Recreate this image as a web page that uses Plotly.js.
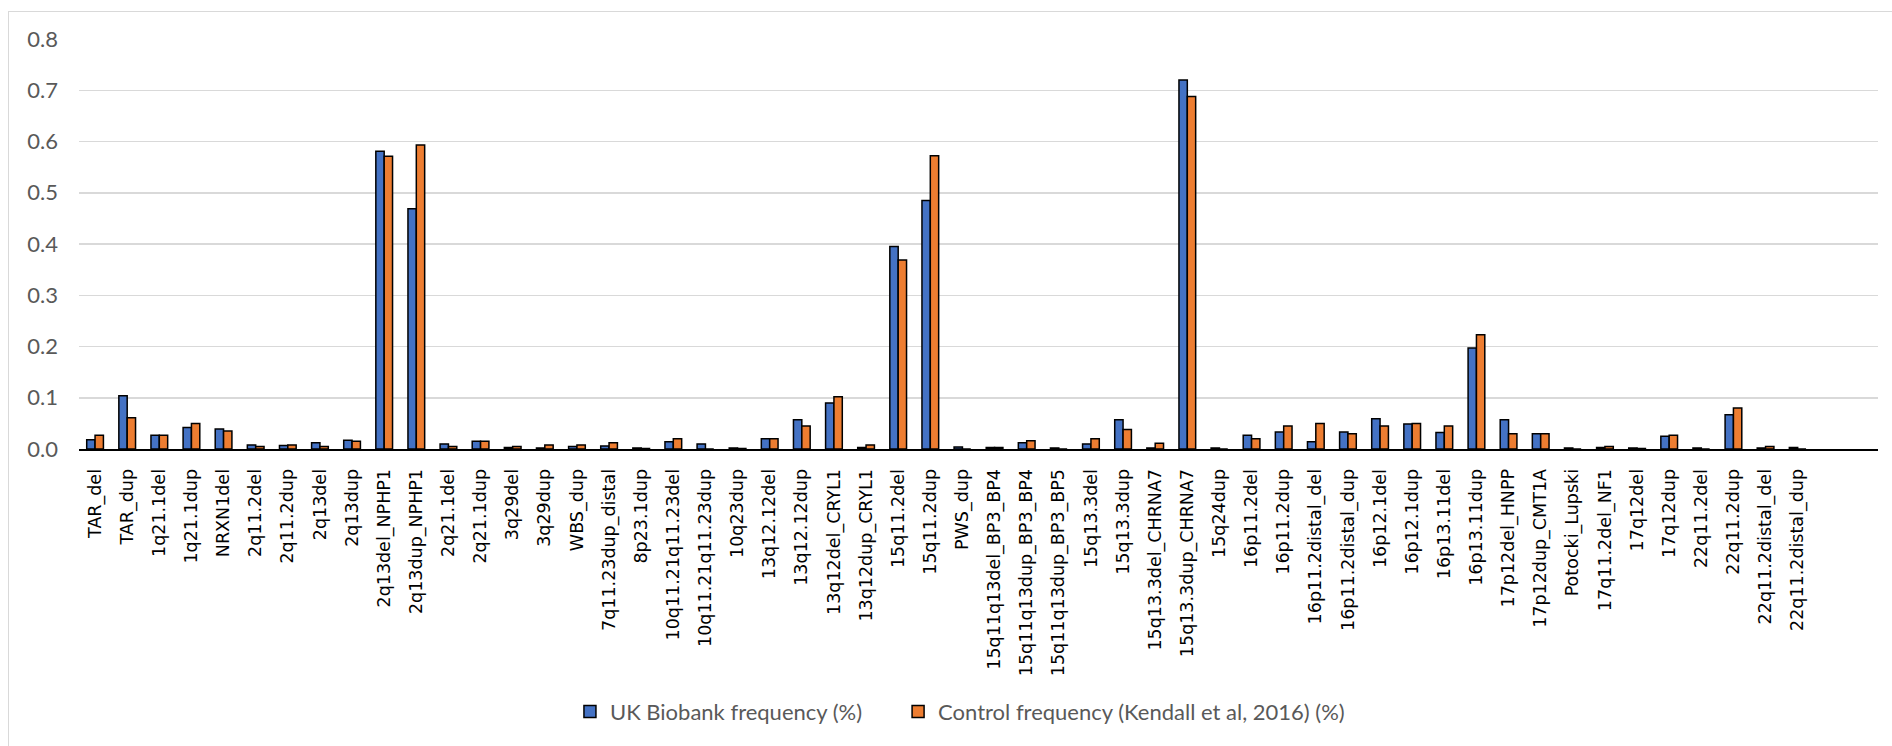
<!DOCTYPE html>
<html>
<head>
<meta charset="utf-8">
<script src="https://cdn.plot.ly/plotly-3.0.1.min.js"></script>
<style>
  html, body { margin: 0; padding: 0; background: #fff; }
  #wrap { position: relative; width: 1892px; height: 746px; overflow: hidden; }
  #chart { width: 1892px; height: 746px; }
  #frame { position: absolute; left: 8px; top: 11px; width: 1900px; height: 800px;
           border-left: 1px solid #D9D9D9; border-top: 1px solid #D9D9D9; pointer-events: none; }
</style>
</head>
<body>
<div id="wrap">
  <div id="chart"></div>
  <div id="frame"></div>
</div>
<script>
const categories = [
  "TAR_del", "TAR_dup", "1q21.1del", "1q21.1dup", "NRXN1del", "2q11.2del", "2q11.2dup",
  "2q13del", "2q13dup", "2q13del_NPHP1", "2q13dup_NPHP1", "2q21.1del", "2q21.1dup",
  "3q29del", "3q29dup", "WBS_dup", "7q11.23dup_distal", "8p23.1dup", "10q11.21q11.23del",
  "10q11.21q11.23dup", "10q23dup", "13q12.12del", "13q12.12dup", "13q12del_CRYL1",
  "13q12dup_CRYL1", "15q11.2del", "15q11.2dup", "PWS_dup", "15q11q13del_BP3_BP4",
  "15q11q13dup_BP3_BP4", "15q11q13dup_BP3_BP5", "15q13.3del", "15q13.3dup",
  "15q13.3del_CHRNA7", "15q13.3dup_CHRNA7", "15q24dup", "16p11.2del", "16p11.2dup",
  "16p11.2distal_del", "16p11.2distal_dup", "16p12.1del", "16p12.1dup", "16p13.11del",
  "16p13.11dup", "17p12del_HNPP", "17p12dup_CMT1A", "Potocki_Lupski", "17q11.2del_NF1",
  "17q12del", "17q12dup", "22q11.2del", "22q11.2dup", "22q11.2distal_del", "22q11.2distal_dup"
];

const ukBiobank = [
  0.018, 0.104, 0.027, 0.042, 0.039, 0.008, 0.007, 0.012, 0.017, 0.581, 0.469,
  0.010, 0.015, 0.003, 0.002, 0.005, 0.006, 0.002, 0.014, 0.010, 0.002, 0.020,
  0.057, 0.090, 0.003, 0.395, 0.485, 0.004, 0.003, 0.012, 0.002, 0.010, 0.057,
  0.002, 0.720, 0.002, 0.027, 0.033, 0.014, 0.033, 0.059, 0.049, 0.032, 0.197,
  0.057, 0.030, 0.002, 0.003, 0.002, 0.025, 0.002, 0.067, 0.002, 0.003
];

const controlKendall = [
  0.027, 0.061, 0.027, 0.050, 0.035, 0.005, 0.008, 0.005, 0.015, 0.571, 0.593,
  0.005, 0.015, 0.005, 0.008, 0.008, 0.012, 0.001, 0.020, 0.000, 0.001, 0.020,
  0.045, 0.102, 0.008, 0.369, 0.572, 0.000, 0.003, 0.016, 0.000, 0.020, 0.038,
  0.011, 0.688, 0.000, 0.020, 0.045, 0.050, 0.030, 0.045, 0.050, 0.045, 0.223,
  0.030, 0.030, 0.000, 0.005, 0.001, 0.027, 0.000, 0.080, 0.005, 0.000
];

const seriesNames = ["UK Biobank frequency (%)", "Control frequency (Kendall et al, 2016) (%)"];
const yTicks = [0, 0.1, 0.2, 0.3, 0.4, 0.5, 0.6, 0.7, 0.8];

const traces = [
  {
    type: "bar", name: seriesNames[0], x: categories, y: ukBiobank,
    marker: { color: "#4472C4", line: { color: "#000000", width: 1.5 } },
    legend: "legend", hoverinfo: "x+y"
  },
  {
    type: "bar", name: seriesNames[1], x: categories, y: controlKendall,
    marker: { color: "#ED7D31", line: { color: "#000000", width: 1.5 } },
    legend: "legend2", hoverinfo: "x+y"
  }
];

const legendFont = { family: "Lato, 'Open Sans', sans-serif", size: 22, color: "#595959" };

const layout = {
  width: 1892, height: 746,
  paper_bgcolor: "#ffffff", plot_bgcolor: "#ffffff",
  margin: { l: 79, r: 14, t: 39, b: 297, pad: 0 },
  barmode: "group", bargap: 0.48, bargroupgap: 0,
  showlegend: true,
  xaxis: {
    type: "category",
    categoryorder: "array", categoryarray: categories,
    range: [-0.5, 55.5],
    tickmode: "array", tickvals: categories, ticktext: categories,
    tickangle: -90,
    tickfont: { family: "'DejaVu Sans', sans-serif", size: 17.5, color: "#000000" },
    ticks: "", ticklabelstandoff: 11,
    showline: true, linecolor: "#000000", linewidth: 2,
    showgrid: false, zeroline: false, fixedrange: true
  },
  yaxis: {
    range: [0, 0.8],
    tickmode: "array", tickvals: yTicks,
    tickformat: ".1f",
    tickfont: { family: "Lato, 'Open Sans', sans-serif", size: 22, color: "#595959" },
    ticks: "", ticklabelstandoff: 20,
    showgrid: true, gridcolor: "#D9D9D9", gridwidth: 1.5,
    zeroline: false, showline: false, fixedrange: true
  },
  legend: {
    orientation: "h", x: 0.2729, xanchor: "left", y: -0.641, yanchor: "middle",
    font: legendFont, bgcolor: "rgba(0,0,0,0)", borderwidth: 0
  },
  legend2: {
    orientation: "h", x: 0.4553, xanchor: "left", y: -0.641, yanchor: "middle",
    font: legendFont, bgcolor: "rgba(0,0,0,0)", borderwidth: 0
  }
};

Plotly.newPlot("chart", traces, layout, { displayModeBar: false, staticPlot: true });
</script>
</body>
</html>
